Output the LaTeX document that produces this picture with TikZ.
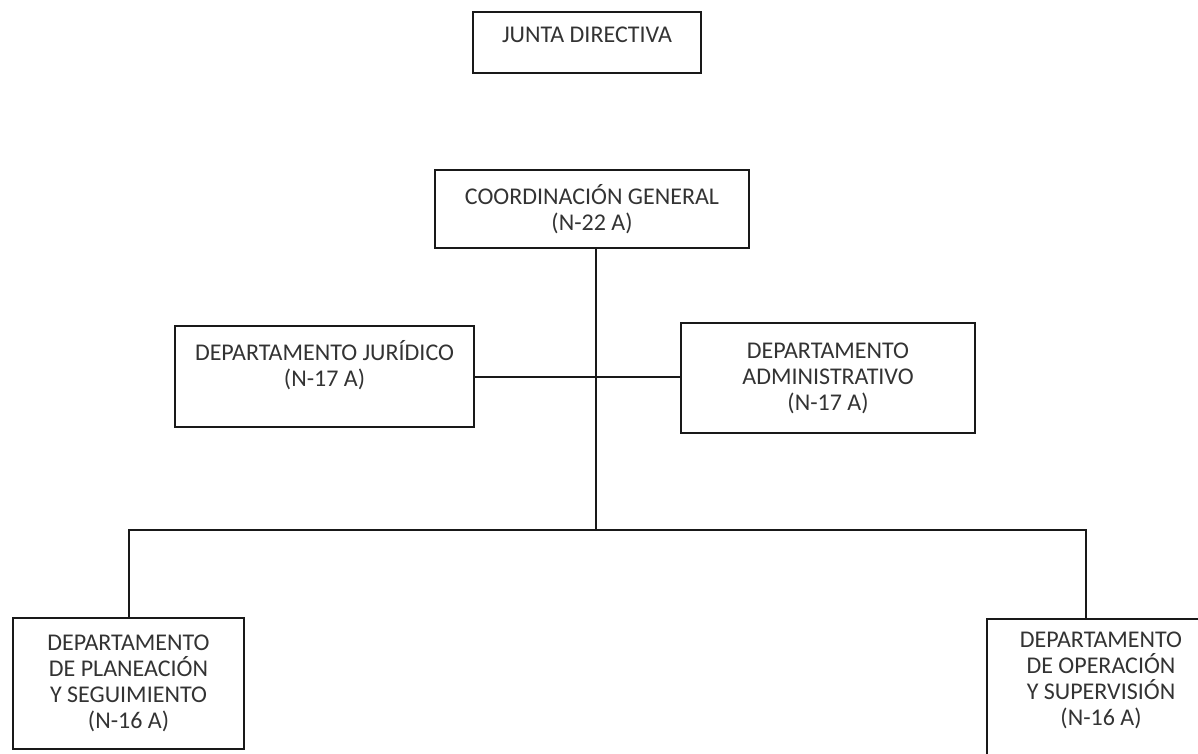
\documentclass[tikz,border=0pt]{standalone}
\usepackage{fontspec}
\setmainfont{Carlito}
\usetikzlibrary{positioning}

\begin{document}
\begin{tikzpicture}[
    x=1pt, y=-1pt,
    font=\fontsize{24}{26}\selectfont,
    org_box/.style={draw=black!90, line width=2pt, align=center, inner sep=0pt, text=black!80},
    link/.style={draw=black!90, line width=2pt}
]
\useasboundingbox (0,0) rectangle (1198,754);

% Top level
\node[org_box, minimum width=228pt, minimum height=61pt, text depth=15pt] (junta) at (587,42.5) {JUNTA DIRECTIVA};
\node[org_box, minimum width=314pt, minimum height=78pt] (coord) at (592,209) {COORDINACIÓN GENERAL\\(N-22 A)};

% Staff departments
\node[org_box, minimum width=299pt, minimum height=101pt, text depth=26pt] (jur) at (324.5,376.5) {DEPARTAMENTO JURÍDICO\\(N-17 A)};
\node[org_box, minimum width=294pt, minimum height=110pt] (adm) at (828,378) {DEPARTAMENTO\\ADMINISTRATIVO\\(N-17 A)};

% Line departments
\node[org_box, minimum width=231pt, minimum height=131pt] (plan) at (128.5,683.5) {DEPARTAMENTO\\DE PLANEACIÓN\\Y SEGUIMIENTO\\(N-16 A)};
\node[org_box, minimum width=228pt, minimum height=150pt, text depth=30pt] (oper) at (1101,694) {DEPARTAMENTO\\DE OPERACIÓN\\Y SUPERVISIÓN\\(N-16 A)};

% Connectors
\coordinate (hub) at (596,530);
\coordinate (bus_r) at (1086,530);
\draw[link] (coord.south -| hub) -- (hub);
\draw[link] (jur.east) -- (jur.east -| adm.west);
\draw[link] (plan.north) |- (bus_r) -- (bus_r |- oper.north);

\end{tikzpicture}
\end{document}
